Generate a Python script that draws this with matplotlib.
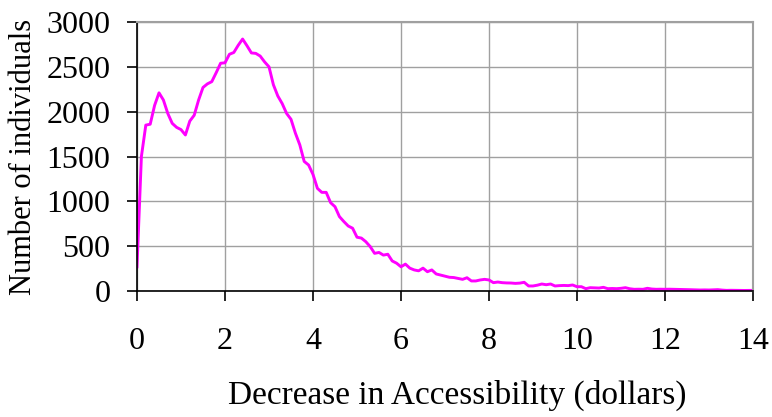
import numpy as np
import matplotlib
matplotlib.use("Agg")
import matplotlib.pyplot as plt

# Decrease in accessibility (dollars), sampled every 0.1
x_step = 0.1
counts = [
    270, 1500, 1850, 1860, 2070, 2210, 2130, 1980, 1870, 1825,
    1800, 1740, 1895, 1960, 2130, 2270, 2310, 2335, 2435, 2540,
    2545, 2640, 2660, 2740, 2810, 2735, 2655, 2650, 2620, 2555,
    2500, 2300, 2175, 2090, 1980, 1915, 1760, 1630, 1445, 1405,
    1300, 1145, 1100, 1100, 985, 940, 830, 775, 725, 700,
    600, 590, 550, 495, 420, 430, 400, 410, 335, 310,
    270, 300, 255, 235, 225, 255, 215, 235, 190, 178,
    167, 153, 150, 140, 130, 148, 112, 112, 123, 130,
    123, 93, 100, 93, 90, 89, 85, 88, 97, 56,
    56, 65, 78, 70, 78, 56, 60, 62, 60, 67,
    48, 48, 26, 37, 35, 33, 41, 26, 28, 26,
    30, 37, 25, 19, 20, 19, 30, 22, 19, 20,
    19, 20, 19, 18, 16, 15, 14, 12, 11, 12,
    11, 13, 15, 10, 7, 8, 7, 7, 6, 7,
    7,
]
x_vals = np.round(np.arange(len(counts)) * x_step, 1)

x_ticks = [0, 2, 4, 6, 8, 10, 12, 14]
y_ticks = [0, 500, 1000, 1500, 2000, 2500, 3000]

plt.rcParams['font.family'] = ['Liberation Serif', 'DejaVu Serif']

fig = plt.figure(figsize=(7.72, 4.17), dpi=100)
ax = fig.add_axes([137/772, 1 - 291/417, (753-137)/772, (291-22)/417])

ax.plot(x_vals, counts, color='#ff00ff', linewidth=2.1)

ax.set_xlim(0, 14)
ax.set_ylim(0, 3000)
ax.set_xticks(x_ticks)
ax.set_yticks(y_ticks)
ax.grid(True, color='#a0a0a0', linewidth=1.0)
ax.set_axisbelow(True)

for s in ['top', 'right']:
    ax.spines[s].set_color('#a0a0a0')
    ax.spines[s].set_linewidth(1.5)
for s in ['left', 'bottom']:
    ax.spines[s].set_color('black')
    ax.spines[s].set_linewidth(1.2)

ax.tick_params(axis='x', direction='out', length=7, width=1.2, pad=19, labelsize=23)
ax.tick_params(axis='y', direction='out', length=7, width=1.2, pad=12, labelsize=23)

ax.set_xlabel('Decrease in Accessibility (dollars)', fontsize=24, labelpad=17)
ax.xaxis.label.set_x(0.52)
ax.set_ylabel('Number of individuals', fontsize=22, labelpad=6)

fig.savefig('out.png', dpi=100)
